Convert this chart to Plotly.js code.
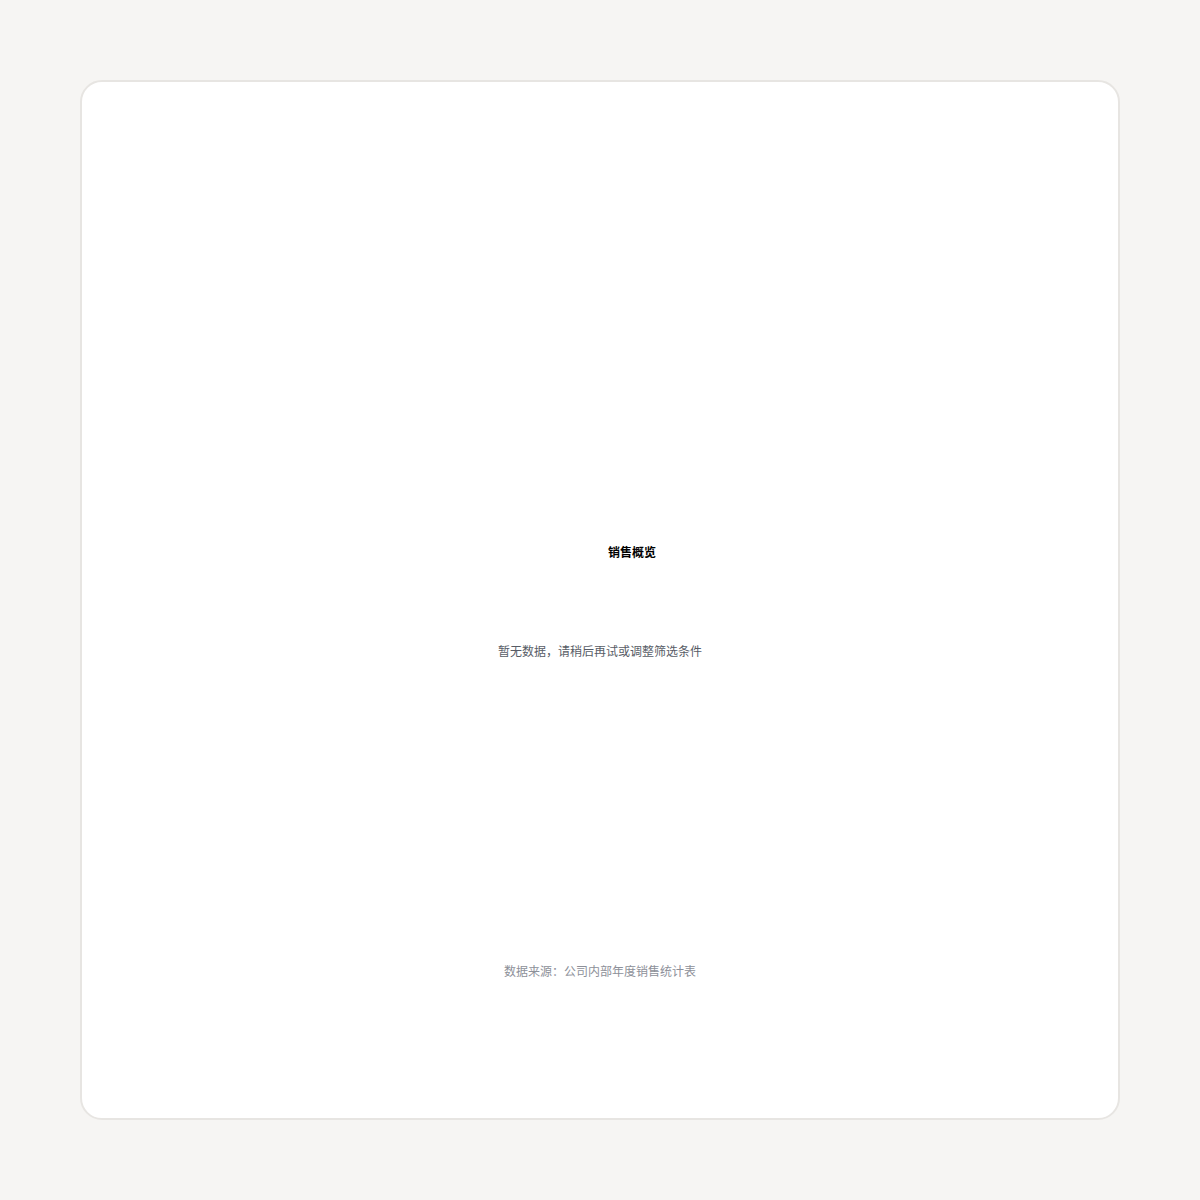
<!DOCTYPE html>
<html>
<head>
<meta charset="utf-8">
<script src="https://cdn.plot.ly/plotly-3.0.1.min.js"></script>
<style>
  html, body { margin: 0; padding: 0; background: #f6f5f3; }
  #card {
    position: absolute; left: 80px; top: 80px;
    box-sizing: border-box; width: 1040px; height: 1040px;
    background: #ffffff; border: 2px solid #e7e5e2; border-radius: 22px;
    overflow: hidden;
  }
  #chart { width: 1036px; height: 1036px; }
</style>
</head>
<body>
<div id="card"><div id="chart"></div></div>
<script>
// the reference draws no marks: empty series
const categories = [];
const values = [];

const chartTitle = '销售概览';
const emptyNote = '暂无数据，请稍后再试或调整筛选条件';
const sourceNote = '数据来源：公司内部年度销售统计表';

const font = '"Noto Sans CJK SC", "DejaVu Sans", sans-serif';

Plotly.newPlot('chart', [{
    x: categories,
    y: values,
    type: 'bar',
    marker: { color: '#3b82f6' },
}], {
    paper_bgcolor: 'rgba(0,0,0,0)',
    plot_bgcolor: 'rgba(0,0,0,0)',
    width: 1036,
    height: 1036,
    margin: { t: 0, r: 0, b: 0, l: 0 },
    showlegend: false,
    font: { family: font, size: 12, color: '#111111' },
    title: {
        text: '<b>' + chartTitle + '</b>',
        xref: 'container', yref: 'container',
        x: 0.531, y: 0.546, xanchor: 'center', yanchor: 'middle',
        font: { family: font, size: 12, color: '#000000' },
    },
    xaxis: { visible: false },
    yaxis: { visible: false },
    annotations: [
        {
            text: emptyNote, xref: 'paper', yref: 'paper', x: 0.5, y: 0.451,
            showarrow: false, font: { family: font, size: 12, color: '#575c66' },
        },
        {
            text: sourceNote, xref: 'paper', yref: 'paper', x: 0.5, y: 0.132,
            showarrow: false, font: { family: font, size: 12, color: '#8d9099' },
        },
    ],
}, { displayModeBar: false, staticPlot: true });
</script>
</body>
</html>
